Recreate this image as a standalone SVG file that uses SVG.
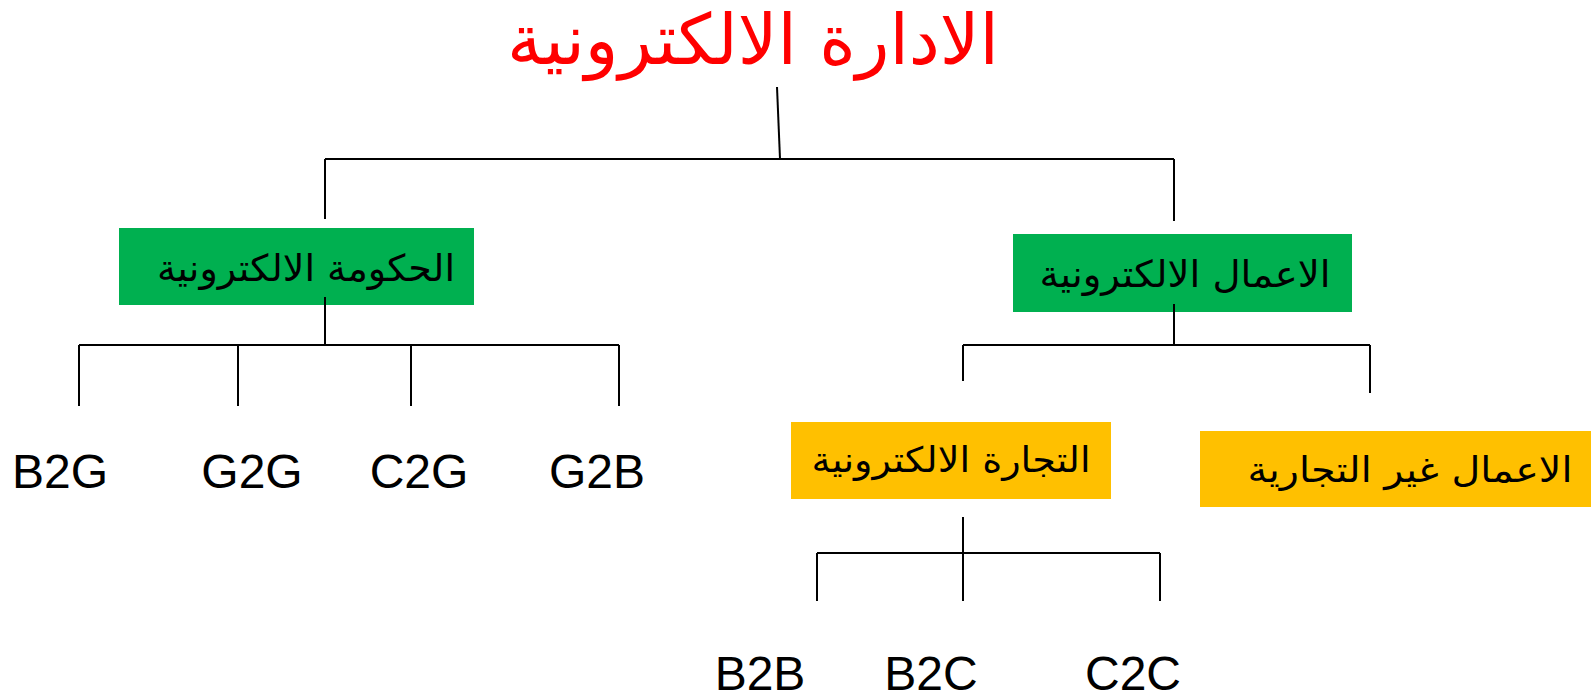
<svg xmlns="http://www.w3.org/2000/svg" width="1591" height="699" viewBox="0 0 1591 699">
<style>
.ar{font-family:"DejaVu Sans","Noto Sans",sans-serif;text-anchor:middle;fill:#000}
.lat{font-family:"Liberation Sans",Arial,sans-serif;font-size:48px;text-anchor:middle;fill:#000}
.green{fill:#00B050}
.yellow{fill:#FFC000}
.con line{stroke:#000;stroke-width:2;fill:none}
</style>
<rect width="1591" height="699" fill="#fff"/>
<g id="title">
<text class="ar" x="753" y="64" font-size="70" style="fill:#FF0000" direction="rtl" textLength="492" lengthAdjust="spacingAndGlyphs">الادارة الالكترونية</text>
</g>
<g id="gov">
<rect class="green" x="119" y="228" width="355" height="77"/>
<text class="ar" x="306" y="281" font-size="37" direction="rtl" textLength="298" lengthAdjust="spacingAndGlyphs">الحكومة الالكترونية</text>
</g>
<g id="biz">
<rect class="green" x="1013" y="234" width="339" height="78"/>
<text class="ar" x="1185" y="287" font-size="37" direction="rtl" textLength="291" lengthAdjust="spacingAndGlyphs">الاعمال الالكترونية</text>
</g>
<g id="ecom">
<rect class="yellow" x="791" y="422" width="320" height="77"/>
<text class="ar" x="951" y="472" font-size="35" direction="rtl" textLength="279" lengthAdjust="spacingAndGlyphs">التجارة الالكترونية</text>
</g>
<g id="noncom">
<rect class="yellow" x="1200" y="431" width="391" height="76"/>
<text class="ar" x="1410" y="482" font-size="35" direction="rtl" textLength="325" lengthAdjust="spacingAndGlyphs">الاعمال غير التجارية</text>
</g>
<g id="b2g"><text class="lat" x="60" y="488">B2G</text></g>
<g id="g2g"><text class="lat" x="252" y="488">G2G</text></g>
<g id="c2g"><text class="lat" x="419" y="488">C2G</text></g>
<g id="g2b"><text class="lat" x="597" y="488">G2B</text></g>
<g id="b2b"><text class="lat" x="760" y="690">B2B</text></g>
<g id="b2c"><text class="lat" x="931" y="690">B2C</text></g>
<g id="c2c"><text class="lat" x="1133" y="690">C2C</text></g>
<g class="con" id="connectors">
<line x1="777" y1="87" x2="780" y2="159"/>
<line x1="325" y1="159" x2="1174" y2="159"/>
<line x1="325" y1="159" x2="325" y2="219"/>
<line x1="1174" y1="159" x2="1174" y2="221"/>
<line x1="325" y1="297" x2="325" y2="345"/>
<line x1="79" y1="345" x2="619" y2="345"/>
<line x1="79" y1="345" x2="79" y2="406"/>
<line x1="238" y1="345" x2="238" y2="406"/>
<line x1="411" y1="345" x2="411" y2="406"/>
<line x1="619" y1="345" x2="619" y2="406"/>
<line x1="1174" y1="304" x2="1174" y2="345"/>
<line x1="963" y1="345" x2="1370" y2="345"/>
<line x1="963" y1="345" x2="963" y2="381"/>
<line x1="1370" y1="345" x2="1370" y2="393"/>
<line x1="963" y1="517" x2="963" y2="601"/>
<line x1="817" y1="553" x2="1160" y2="553"/>
<line x1="817" y1="553" x2="817" y2="601"/>
<line x1="1160" y1="553" x2="1160" y2="601"/>
</g>
</svg>
